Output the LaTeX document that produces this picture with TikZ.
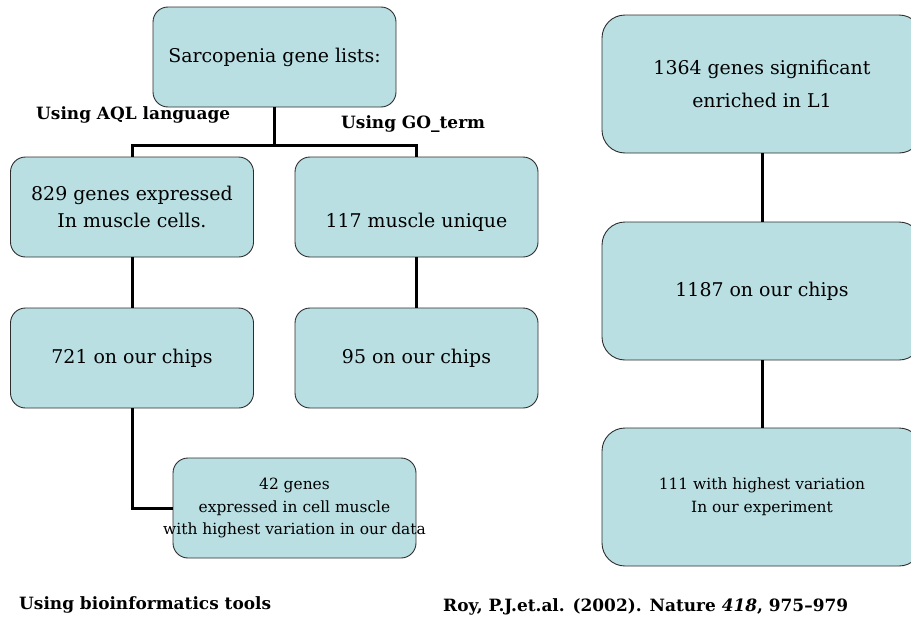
\documentclass[tikz,border=0pt]{standalone}
\usepackage{fontspec}
\setmainfont{DejaVu Serif}
\usepackage{tikz}

\definecolor{boxfill}{RGB}{185,223,227}
\definecolor{boxline}{RGB}{45,45,45}

\tikzset{
  genebox/.style={draw=boxline, fill=boxfill, line width=0.9bp, rounded corners=15bp,
    minimum width=243bp, minimum height=100bp, inner sep=2bp, align=center,
    font=\fontsize{19}{27}\selectfont},
  tallbox/.style={genebox, rounded corners=23bp, minimum width=320bp, minimum height=138bp,
    font=\fontsize{19}{34}\selectfont},
  smalltext/.style={font=\fontsize{15.5}{23}\selectfont},
  method/.style={anchor=west, inner sep=0pt, font=\bfseries\fontsize{17}{20}\selectfont},
  link/.style={line width=3bp, black},
}

\begin{document}
\begin{tikzpicture}
  \useasboundingbox (0bp,0bp) rectangle (911bp,-619bp);

  % sarcopenia lists
  \node (sarc)   at (274.5bp,-57bp)  [genebox] {Sarcopenia gene lists:};
  \node (aql829) at (132bp,-207bp)   [genebox] {829 genes expressed\\In muscle cells.};
  \node (go117)  at (416.5bp,-207bp) [genebox] {\raisebox{-15bp}[\height][\depth]{117 muscle unique}};
  \node (aql721) at (132bp,-358bp)   [genebox] {721 on our chips};
  \node (go95)   at (416.5bp,-358bp) [genebox] {95 on our chips};
  \node (var42)  at (294.5bp,-508bp) [genebox, smalltext] {42 genes\\expressed in cell muscle\\\makebox[230bp]{with highest variation in our data}};

  % Roy et al. lists
  \node (l1364) at (762bp,-84bp)  [tallbox] {1364 genes significant\\enriched in L1};
  \node (l1187) at (762bp,-291bp) [tallbox] {1187 on our chips};
  \node (l111)  at (762bp,-497bp) [tallbox, smalltext] {111 with highest variation\\In our experiment};

  \node (byaql) at (36bp,-115bp)  [method] {Using AQL language};
  \node (bygo)  at (341bp,-124bp) [method] {Using GO\_term};
  \node (bio)   at (19bp,-605bp)  [method] {Using bioinformatics tools};
  \node (roy)   at (443bp,-607bp) [method] {Roy, P.J.et.al. (2002). Nature \textit{418}, 975–979};

  \coordinate (fork) at (274.5bp,-145bp);
  \draw [link] (sarc) -- (fork);
  \draw [link] (aql829.north) |- (fork) -| (go117.north);
  \draw [link] (aql829) -- (aql721);
  \draw [link] (go117) -- (go95);
  \draw [link] (aql721.south) |- (var42.west);
  \draw [link] (l1364) -- (l1187);
  \draw [link] (l1187) -- (l111);
\end{tikzpicture}
\end{document}
